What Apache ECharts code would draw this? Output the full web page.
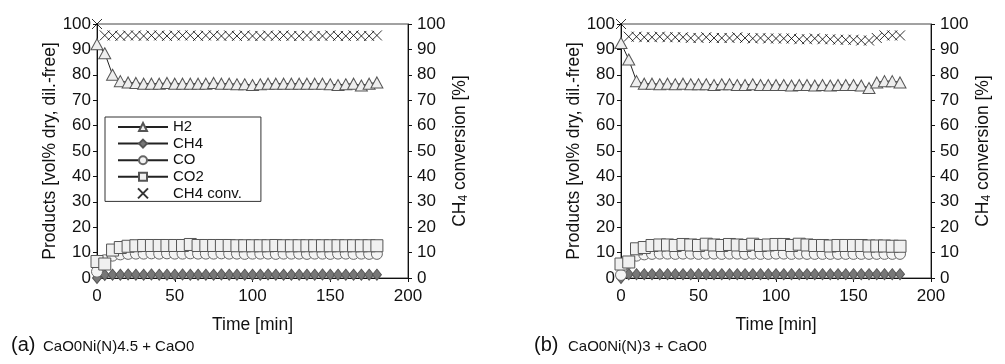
<!DOCTYPE html>
<html>
<head>
<meta charset="utf-8">
<script src="https://cdn.jsdelivr.net/npm/echarts@6/dist/echarts.min.js"></script>
<style>
html,body{margin:0;padding:0;background:#fff;}
#c{width:1005px;height:364px;}
</style>
</head>
<body>
<div id="c"></div>
<script>
// ---- data ----
const time = [0,5,10,15,20,25,30,35,40,45,50,55,60,65,70,75,80,85,90,95,100,105,110,115,120,125,130,135,140,145,150,155,160,165,170,175,180];
const xTicks = [0,50,100,150,200];
const yTicks = [0,10,20,30,40,50,60,70,80,90,100];

// (a) CaO0Ni(N)4.5 + CaO0
const h2A   = [92,88.5,80,77.5,77,76.8,76.5,76.5,76.5,76.8,76.5,76.5,76.5,76.5,76.5,76.8,76.5,76.5,76.3,76.3,76,76.3,76.5,76.5,76.5,76.5,76.5,76.5,76.5,76.5,76.3,76,76.3,76.5,75.8,76.5,77];
const ch4A  = [0,1.2,1.3,1.3,1.4,1.3,1.3,1.4,1.3,1.3,1.3,1.4,1.3,1.3,1.3,1.3,1.4,1.3,1.3,1.3,1.3,1.3,1.4,1.3,1.3,1.3,1.3,1.3,1.3,1.4,1.3,1.3,1.3,1.3,1.3,1.3,1.3];
const coA   = [2.5,7,8.8,9.3,9.5,9.6,9.6,9.7,9.6,9.7,9.6,9.6,9.7,9.6,9.6,9.6,9.7,9.6,9.6,9.5,9.6,9.6,9.6,9.5,9.6,9.6,9.6,9.5,9.6,9.6,9.5,9.6,9.6,9.5,9.6,9.5,9.5];
const co2A  = [6.5,5.5,11,12,12.5,12.7,12.8,12.8,12.8,12.8,12.8,12.8,13.2,12.8,12.8,12.8,12.8,12.8,12.7,12.7,12.7,12.7,12.7,12.8,12.7,12.7,12.7,12.7,12.7,12.7,12.7,12.7,12.7,12.7,12.7,12.7,12.7];
const convA = [100,95.5,95.5,95.3,95.5,95.5,95.3,95.5,95.5,95.3,95.5,95.5,95.5,95.3,95.5,95.5,95.3,95.5,95.3,95.5,95.3,95.3,95.5,95.3,95.5,95.3,95.3,95.5,95.3,95.3,95.5,95.3,95.3,95.5,95.3,95.3,95.5];

// (b) CaO0Ni(N)3 + CaO0
const h2B   = [92.5,86,77.5,76.5,76.5,76.3,76.5,76.3,76.5,76.3,76.3,76.3,76,76.3,76.3,76,76,76.3,76,76,76,76,75.8,76,76,75.8,76,75.8,76,76,76,75.8,74.8,77,77.5,77.5,77];
const ch4B  = [0,1.5,1.5,1.5,1.5,1.5,1.5,1.5,1.5,1.5,1.5,1.5,1.5,1.5,1.5,1.5,1.5,1.5,1.5,1.5,1.5,1.5,1.5,1.5,1.5,1.5,1.5,1.5,1.5,1.5,1.5,1.5,1.5,1.5,1.5,1.5,1.5];
const coB   = [1.2,6,8.8,9.3,9.5,9.6,9.6,9.5,9.6,9.6,9.5,9.6,9.6,9.5,9.6,9.6,9.5,9.6,9.5,9.5,9.6,9.6,9.5,9.6,9.5,9.5,9.5,9.5,9.5,9.5,9.5,9.5,9.5,9.5,9.5,9.5,9.5];
const co2B  = [5.5,6.3,11.5,12,12.8,13,13,12.8,13.2,13,12.8,13.3,13,12.8,13.2,13,12.8,13.3,12.8,13,13.2,13.2,12.8,13.3,13,12.8,12.8,12.6,12.8,12.8,12.8,12.8,12.6,12.6,12.6,12.5,12.5];
const convB = [100,95,95,94.8,94.8,95,94.8,94.8,94.8,94.5,94.5,94.8,94.5,94.5,94.5,94.8,94.5,94.3,94.5,94.3,94.3,94.3,94.3,94,94,94.3,94,94,93.8,93.8,93.8,93.5,93.5,94.5,95.5,95.5,95.5];

const seriesNames = ['H2','CH4','CO','CO2','CH4 conv.'];
const captionTags = ['(a)','(b)'];
const captionTexts = ['CaO0Ni(N)4.5 + CaO0','CaO0Ni(N)3 + CaO0'];
const xAxisTitle = 'Time [min]';
const yLeftTitle = 'Products [vol% dry, dil.-free]';

// ---- chart ----
const FONT = 'Liberation Sans, Arial, sans-serif';
const TICK_FS = 17, TITLE_FS = 17.5;
const pair = (xs, ys) => xs.map((x, i) => [x, ys[i]]);
const CROSS = 'path://M0,0L10,10M10,0L0,10';

const grids = [
  {left: 97, top: 24, width: 311, height: 254},
  {left: 621, top: 24, width: 310, height: 254}
].map(g => Object.assign(g, {show: true, borderColor: '#444', borderWidth: 1, backgroundColor: 'transparent'}));

function xAxis(gi) {
  return {
    type: 'value', gridIndex: gi, min: xTicks[0], max: xTicks[xTicks.length - 1], interval: xTicks[1] - xTicks[0],
    name: xAxisTitle, nameLocation: 'middle', nameGap: 38, nameMoveOverlap: false,
    nameTextStyle: {fontFamily: FONT, fontSize: TITLE_FS, color: '#111'},
    axisLine: {show: true, onZero: false, lineStyle: {color: '#111', width: 1}},
    axisTick: {show: true, inside: false, length: 4, lineStyle: {color: '#111'}},
    axisLabel: {fontFamily: FONT, fontSize: TICK_FS, color: '#111', margin: 10},
    splitLine: {show: false}
  };
}
function yAxisLeft(gi) {
  return {
    type: 'value', gridIndex: gi, position: 'left', min: yTicks[0], max: yTicks[yTicks.length - 1], interval: yTicks[1] - yTicks[0],
    name: yLeftTitle, nameLocation: 'middle', nameGap: 38, nameRotate: 90, nameMoveOverlap: false,
    nameTextStyle: {fontFamily: FONT, fontSize: TITLE_FS, color: '#111'},
    axisLine: {show: true, lineStyle: {color: '#111', width: 1}},
    axisTick: {show: true, inside: false, length: 4, lineStyle: {color: '#111'}},
    axisLabel: {fontFamily: FONT, fontSize: TICK_FS, color: '#111', margin: 6},
    splitLine: {show: false}
  };
}
function yAxisRight(gi) {
  return {
    type: 'value', gridIndex: gi, position: 'right', min: yTicks[0], max: yTicks[yTicks.length - 1], interval: yTicks[1] - yTicks[0],
    name: '{a|CH}{s|4}{a| conversion [%]}', nameLocation: 'middle', nameGap: 43, nameRotate: 90, nameMoveOverlap: false,
    nameTextStyle: {fontFamily: FONT, color: '#111', rich: {
      a: {fontFamily: FONT, fontSize: TITLE_FS, color: '#111'},
      s: {fontFamily: FONT, fontSize: 12, color: '#111', verticalAlign: 'bottom', padding: [7, 0, 0, 0]}
    }},
    axisLine: {show: true, lineStyle: {color: '#111', width: 1}},
    axisTick: {show: true, inside: false, length: 4, lineStyle: {color: '#111'}},
    axisLabel: {fontFamily: FONT, fontSize: TICK_FS, color: '#111', margin: 9},
    splitLine: {show: false}
  };
}

function seriesFor(gi, h2, ch4, co, co2, conv) {
  const base = {type: 'line', xAxisIndex: gi, yAxisIndex: gi * 2, showAllSymbol: true, animation: false,
    lineStyle: {color: '#222', width: 1}};
  return [
    Object.assign({}, base, {name: seriesNames[0], data: pair(time, h2), symbol: 'triangle', symbolSize: [12, 11],
      itemStyle: {color: '#eeeeee', borderColor: '#555', borderWidth: 1}}),
    Object.assign({}, base, {name: seriesNames[1], data: pair(time, ch4), symbol: 'diamond', symbolSize: [9, 11],
      itemStyle: {color: '#777777', borderColor: '#555', borderWidth: 1}}),
    Object.assign({}, base, {name: seriesNames[2], data: pair(time, co), symbol: 'circle', symbolSize: 11,
      itemStyle: {color: '#f4f4f4', borderColor: '#666', borderWidth: 1}}),
    Object.assign({}, base, {name: seriesNames[3], data: pair(time, co2), symbol: 'rect', symbolSize: 12,
      itemStyle: {color: '#f0f0f0', borderColor: '#555', borderWidth: 1}}),
    {type: 'scatter', name: seriesNames[4], xAxisIndex: gi, yAxisIndex: gi * 2 + 1, animation: false,
      data: pair(time, conv), symbol: CROSS, symbolSize: 10,
      itemStyle: {color: 'transparent', borderColor: '#000', borderWidth: 1}}
  ];
}

const capX = [[11, 43], [534, 568]];
const graphics = [];
captionTags.forEach((t, i) => {
  graphics.push({type: 'text', x: capX[i][0], y: 355, style: {text: t, font: '20px ' + FONT, fill: '#111', verticalAlign: 'bottom'}});
  graphics.push({type: 'text', x: capX[i][1], y: 354, style: {text: captionTexts[i], font: '15px ' + FONT, fill: '#111', verticalAlign: 'bottom'}});
});

const chart = echarts.init(document.getElementById('c'), null, {renderer: 'canvas'});
chart.setOption({
  animation: false,
  backgroundColor: '#fff',
  grid: grids,
  xAxis: [xAxis(0), xAxis(1)],
  yAxis: [yAxisLeft(0), yAxisRight(0), yAxisLeft(1), yAxisRight(1)],
  legend: {
    show: true, orient: 'vertical', left: 105, top: 117,
    data: seriesNames,
    itemWidth: 50, itemHeight: 10, itemGap: 0.6,
    padding: [2, 19, 0, 12],
    borderColor: '#333', borderWidth: 1, backgroundColor: '#fff',
    selectedMode: false,
    textStyle: {fontFamily: FONT, fontSize: 15, color: '#111', lineHeight: 16}
  },
  graphic: graphics,
  series: [].concat(seriesFor(0, h2A, ch4A, coA, co2A, convA), seriesFor(1, h2B, ch4B, coB, co2B, convB))
});
</script>
</body>
</html>
